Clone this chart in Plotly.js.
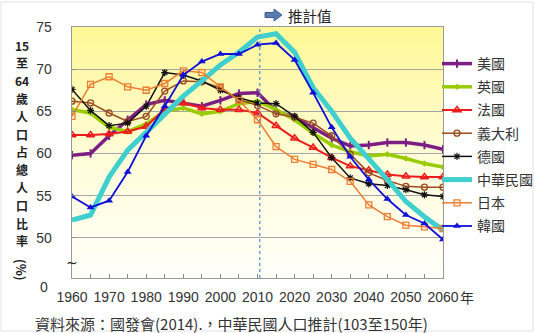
<!DOCTYPE html>
<html>
<head>
<meta charset="utf-8">
<script src="https://cdn.plot.ly/plotly-3.0.1.min.js"></script>
<style>html,body{margin:0;padding:0;background:#fff;}#chart{width:535px;height:333px;}</style>
</head>
<body>
<div id="chart"></div>
<script>
// ---- data ----
const years = [1960,1965,1970,1975,1980,1985,1990,1995,2000,2005,2010,2015,2020,2025,2030,2035,2040,2045,2050,2055,2060];
const usa     = [59.8,60.0,62.1,64.0,65.8,66.3,66.0,65.6,66.3,67.1,67.2,65.0,64.3,63.0,61.8,60.9,61.0,61.3,61.3,61.0,60.5];
const uk      = [65.2,64.8,63.1,62.6,63.5,65.0,65.4,64.7,65.0,65.9,66.2,65.2,64.0,62.4,61.0,60.2,59.7,59.9,59.4,58.8,58.4];
const france  = [62.2,62.2,62.3,62.6,63.2,65.3,66.0,65.4,65.2,65.2,64.8,63.3,61.8,60.7,59.5,58.5,58.0,57.5,57.3,57.2,57.2];
const italy   = [66.2,66.0,64.8,63.8,64.4,67.4,68.6,68.5,67.8,66.4,65.7,64.7,64.3,63.6,62.1,59.9,57.7,56.8,56.1,56.0,56.0];
const germany = [67.6,65.1,63.3,63.6,65.6,69.6,69.3,68.6,67.5,66.6,66.0,65.9,64.4,62.5,59.5,57.1,56.4,56.2,55.7,55.1,54.9];
const taiwan  = [52.1,52.7,57.2,60.4,62.5,64.7,66.8,68.6,70.5,72.0,73.8,74.2,72.0,67.8,65.0,61.8,59.4,56.9,54.3,52.5,50.9];
const japan   = [64.4,68.2,69.1,67.9,67.5,68.3,69.8,69.6,67.9,66.3,64.0,60.8,59.3,58.7,58.1,56.7,53.9,52.5,51.5,51.3,51.1];
const korea   = [54.9,53.6,54.4,57.8,62.1,65.6,69.3,70.9,71.8,71.8,72.9,73.1,71.1,67.2,63.1,59.6,56.9,54.6,52.7,51.7,49.8];

const seriesNames = ['美國','英國','法國','義大利','德國','中華民國','日本','韓國'];
const seriesData  = [usa, uk, france, italy, germany, taiwan, japan, korea];

const xTickVals = [1960,1970,1980,1990,2000,2010,2020,2030,2040,2050,2060];
const xTickText = ['1960','1970','1980','1990','2000','2010','2020','2030','2040','2050','2060'];
const xUnit = '年';
const yTickVals = [50,55,60,65,70,75];
const yTitleChars = ['15','至','64','歲','人','口','占','總','人','口','比','率'];

// ---- styles ----
const styles = [
  {color:'#7D1F82', width:3.5, mode:'lines+markers', symbol:'line-ns-open', size:6, mlw:2},
  {color:'#99CC00', width:3.5, mode:'lines+markers', symbol:'diamond', size:5, mlw:0},
  {color:'#EE1C1C', width:2,   mode:'lines+markers', symbol:'triangle-up-open', size:7, mlw:1.5},
  {color:'#9A4A1C', width:1.5, mode:'lines+markers', symbol:'circle-open', size:6, mlw:1.3},
  {color:'#111111', width:1.5, mode:'lines+markers', symbol:'asterisk-open', size:6, mlw:1.2},
  {color:'#3FCFCF', width:5,   mode:'lines', symbol:'circle', size:1, mlw:0},
  {color:'#EE7D31', width:1.5, mode:'lines+markers', symbol:'square-open', size:6, mlw:1.3},
  {color:'#1010D8', width:1.8, mode:'lines+markers', symbol:'triangle-up', size:7, mlw:0}
];

const traces = seriesData.map((vals, i) => ({
  type:'scatter', x: years, y: vals, name: seriesNames[i], mode: styles[i].mode,
  legendgroup: 'g'+i,
  line:{color: styles[i].color, width: styles[i].width},
  marker:{symbol: styles[i].symbol, size: styles[i].size, color: styles[i].color,
          line:{color: styles[i].color, width: styles[i].mlw}}
}));

const numFont = 'Liberation Sans, Arial, sans-serif';
const cjkFont = 'Noto Sans CJK TC, Noto Sans, sans-serif';

const L = 72, T = 27, W = 371, H = 251;
const px = v => (v - L) / W;
const py = v => (T + H - v) / H;

// background gradient bands (styling only)
const shapes = [];
const NB = 60;
const c0 = [255,248,150], c1 = [255,252,214], c2 = [255,255,250];
for (let k = 0; k < NB; k++) {
  const t = k / (NB - 1);
  let c;
  if (t < 0.5) { const u = t / 0.5; c = c0.map((v, j) => Math.round(v + (c1[j] - v) * u)); }
  else { const u = (t - 0.5) / 0.5; c = c1.map((v, j) => Math.round(v + (c2[j] - v) * u)); }
  shapes.push({type:'rect', xref:'paper', yref:'paper', x0:0, x1:1,
    y0:1 - (k + 1) / NB - 0.002, y1:1 - k / NB, layer:'below',
    line:{width:0}, fillcolor:'rgb(' + c.join(',') + ')'});
}
shapes.push({type:'line', xref:'x', yref:'paper', x0:2010.6, x1:2010.6, y0:0, y1:1,
  line:{color:'#6F9FD6', width:1.5, dash:'dot'}});
shapes.push({type:'rect', xref:'paper', yref:'paper', x0:px(1), x1:px(533), y0:py(331), y1:py(2),
  line:{color:'#E2E2E2', width:1}});
const arrowPts = [[265,12.5],[274,12.5],[274,9],[282,15],[274,21],[274,17.5],[265,17.5]];
shapes.push({type:'path', xref:'paper', yref:'paper',
  path:'M' + arrowPts.map(p => px(p[0]) + ',' + py(p[1])).join(' L') + ' Z',
  fillcolor:'#5A7BB0', line:{color:'#3F5F92', width:1}});

const annotations = [];
yTitleChars.forEach((ch, i) => {
  annotations.push({xref:'paper', yref:'paper', x:px(22), y:py(45 + i * 17.8), xanchor:'center', yanchor:'middle',
    showarrow:false, text:'<b>' + ch + '</b>', font:{family:cjkFont, size:12, color:'#222'}});
});
annotations.push(
  {xref:'paper', yref:'paper', x:px(22), y:py(270), xanchor:'center', yanchor:'middle', showarrow:false,
   text:'<b>(%)</b>', textangle:90, font:{family:cjkFont, size:12.5, color:'#222'}},
  {xref:'paper', yref:'paper', x:px(50), y:py(287), xanchor:'right', yanchor:'middle', showarrow:false,
   text:'0', font:{family:numFont, size:14, color:'#333'}},
  {xref:'paper', yref:'paper', x:px(72), y:py(263), xanchor:'center', yanchor:'middle', showarrow:false,
   text:'~', font:{family:'DejaVu Sans', size:14, color:'#222'}},
  {xref:'paper', yref:'paper', x:px(458), y:py(297), xanchor:'left', yanchor:'middle', showarrow:false,
   text:xUnit, font:{family:cjkFont, size:14, color:'#333'}},
  {xref:'paper', yref:'paper', x:px(286), y:py(15), xanchor:'left', yanchor:'middle', showarrow:false,
   text:'推計值', font:{family:cjkFont, size:14.5, color:'#222'}},
  {xref:'paper', yref:'paper', x:px(33), y:py(323), xanchor:'left', yanchor:'middle', showarrow:false,
   text:'資料來源：國發會(2014).，中華民國人口推計(103至150年)',
   font:{family:cjkFont, size:15, color:'#333'}}
);

const layout = {
  width:535, height:333,
  margin:{l:L, r:535-L-W, t:T, b:333-T-H, autoexpand:false},
  paper_bgcolor:'#ffffff', plot_bgcolor:'rgba(0,0,0,0)',
  showlegend:true,
  legend:{x:px(437), y:py(48), xanchor:'left', yanchor:'top', tracegroupgap:2,
          font:{family:cjkFont, size:14, color:'#333'}, bgcolor:'rgba(0,0,0,0)'},
  xaxis:{range:[1960,2060], tickvals:xTickVals, ticktext:xTickText, tickangle:0, ticks:'inside', ticklen:4,
         tickcolor:'#888', showgrid:false, zeroline:false, showline:true, linecolor:'#999', linewidth:1.3,
         mirror:true, tickfont:{family:numFont, size:14, color:'#333'}, ticklabelstandoff:6,
         minor:{dtick:5, tick0:1960, ticks:'inside', ticklen:4, tickcolor:'#888', showgrid:false}},
  yaxis:{range:[45.23,75], tickvals:yTickVals, ticks:'inside', ticklen:4, tickcolor:'#888',
         showgrid:true, gridcolor:'#A6A6A6', gridwidth:1.3, zeroline:false, showline:true,
         linecolor:'#999', linewidth:1.3, mirror:true,
         tickfont:{family:numFont, size:14, color:'#333'}, ticklabelstandoff:16},
  shapes: shapes,
  annotations: annotations
};

Plotly.newPlot('chart', traces, layout, {staticPlot:true, displayModeBar:false});
</script>
</body>
</html>
